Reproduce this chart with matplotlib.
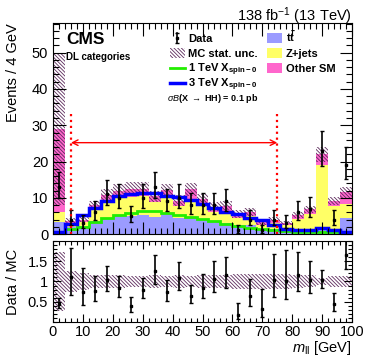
import matplotlib
matplotlib.use("Agg")
import matplotlib.pyplot as plt
import numpy as np
from matplotlib.patches import Rectangle
from matplotlib.ticker import MultipleLocator

plt.rcParams['font.family'] = ['Liberation Sans', 'DejaVu Sans']
plt.rcParams['mathtext.fontset'] = 'custom'
plt.rcParams['mathtext.rm'] = 'Liberation Sans'
plt.rcParams['mathtext.it'] = 'Liberation Sans:italic'
plt.rcParams['mathtext.bf'] = 'Liberation Sans:bold'
plt.rcParams['hatch.linewidth'] = 0.6

# m_ll bins, 4 GeV wide
edges = np.arange(0, 101, 4)

tt = [3.4, 2.0, 2.2, 3.5, 4.5, 5.0, 5.0, 5.2, 4.6, 5.5, 4.3, 4.8, 3.8,
      3.3, 3.0, 2.4, 2.6, 1.4, 1.3, 0.9, 1.0, 1.0, 1.5, 0.8, 4.3]
zjets = [2.7, 1.0, 1.2, 3.2, 4.5, 5.0, 5.2, 5.3, 4.2, 4.7, 3.4, 5.0, 4.0,
         2.8, 3.0, 2.0, 2.4, 1.2, 1.7, 1.5, 3.2, 4.5, 17.5, 7.0, 4.0]
other = [22.9, 0.6, 0.6, 1.2, 1.7, 2.0, 2.3, 2.0, 1.6, 2.0, 1.5, 2.5, 1.8,
         1.5, 1.8, 1.1, 1.2, 0.6, 0.9, 0.6, 1.0, 1.3, 3.0, 1.3, 3.2]
mc_unc = [21.0, 0.9, 0.8, 1.3, 1.6, 1.8, 1.8, 1.8, 1.6, 1.7, 1.5, 1.8, 1.5,
          1.3, 1.3, 1.0, 1.1, 0.6, 0.7, 0.55, 0.8, 1.0, 2.0, 1.2, 1.5]
data = [13, 4, 3, 6, 11, 10, 5, 10, 13, 9, 10, 8, 8,
        8, 9, 1, 4, 1, 4, 3, 6, 7, 23, 4, 19]
sig_1tev = [0.4, 1.5, 2.0, 3.3, 4.3, 5.3, 5.9, 6.4, 6.3, 5.9, 5.3, 4.8, 4.1,
            3.5, 2.9, 2.2, 1.8, 1.4, 1.0, 0.8, 0.7, 0.6, 0.6, 0.5, 0.4]
sig_3tev = [0.5, 2.8, 5.3, 7.2, 9.0, 10.4, 11.0, 11.4, 11.2, 10.6, 10.1, 9.4, 8.3,
            7.2, 6.2, 5.4, 4.5, 3.8, 2.5, 1.4, 1.1, 1.1, 1.6, 1.1, 0.6]

tt = np.array(tt)
zjets = np.array(zjets)
other = np.array(other)
mc_unc = np.array(mc_unc)
data = np.array(data, dtype=float)
total = tt + zjets + other
centers = 0.5 * (edges[:-1] + edges[1:])
err_up = np.sqrt(data + 0.25) + 0.5
err_dn = np.sqrt(data + 0.25) - 0.5

c_tt = '#9b9bff'
c_z = '#ffff66'
c_other = '#ff66cc'
c_hatch = '#5c2a5c'
c_green = '#22ee00'
c_blue = '#0000ff'
hatch = '\\\\\\\\\\\\\\\\\\'

fig = plt.figure(figsize=(3.74, 3.59), dpi=100)
ax = fig.add_axes([0.1417, 0.348, 0.7995, 0.588])
rax = fig.add_axes([0.1417, 0.103, 0.7995, 0.226])

# stacked backgrounds
ax.stairs(tt, edges, baseline=0, fill=True, color=c_tt, lw=0)
ax.stairs(tt + zjets, edges, baseline=tt, fill=True, color=c_z, lw=0)
ax.stairs(total, edges, baseline=tt + zjets, fill=True, color=c_other, lw=0)
ax.stairs(total + mc_unc, edges, baseline=total - mc_unc, fill=True,
          facecolor='none', edgecolor=c_hatch, hatch=hatch, lw=0)

# signals
ax.stairs(sig_1tev, edges, baseline=None, color=c_green, lw=2)
ax.stairs(sig_3tev, edges, baseline=None, color=c_blue, lw=2.5)

ax.errorbar(centers, data, yerr=[err_dn, err_up], fmt='s', ms=2, color='black',
            elinewidth=1.2, capsize=1.2, capthick=1)

# selection window
ax.vlines([6, 75], 0, 33.3, colors='red', linestyles=':', lw=1.6)
ax.annotate('', xy=(6, 25.2), xytext=(75, 25.2),
            arrowprops=dict(arrowstyle='<->', color='red', lw=1,
                            shrinkA=0, shrinkB=0))

ax.set_xlim(0, 100)
ax.set_ylim(0, 58.2)
ax.xaxis.set_major_locator(MultipleLocator(10))
ax.xaxis.set_minor_locator(MultipleLocator(2))
ax.yaxis.set_major_locator(MultipleLocator(10))
ax.yaxis.set_minor_locator(MultipleLocator(2))
ax.tick_params(which='both', direction='in', top=True, right=True, labelsize=10.5)
ax.tick_params(which='major', length=9, width=0.8)
ax.tick_params(which='minor', length=4.5, width=0.8)
ax.tick_params(axis='x', labelbottom=False)
ax.set_ylabel('Events / 4 GeV', loc='top', fontsize=10.5)
ax.yaxis.set_label_coords(-0.11, 1.0)

ax.text(0.045, 0.955, 'CMS', transform=ax.transAxes, fontsize=12.5,
        fontweight='bold', va='top', ha='left')
ax.text(0.045, 0.838, 'DL categories', transform=ax.transAxes, fontsize=7,
        fontweight='bold', va='center', ha='left')
ax.text(0.381, 0.642, r'$\sigma B$(X $\rightarrow$ HH) = 0.1 pb',
        transform=ax.transAxes, fontsize=6.5, fontweight='bold', va='center')
fig.text(0.941, 0.9415, r'138 fb$^{-1}$ (13 TeV)', ha='right', va='baseline',
         fontsize=10.5)

# legend drawn by hand so that the rows keep an even spacing
rows = [0.929, 0.858, 0.787, 0.716]
kw = dict(transform=ax.transAxes, clip_on=False)
x1, x2 = 0.391, 0.716
hw, hh = 0.05, 0.047
xm = x1 + hw / 2
ax.plot([xm, xm], [rows[0] - 0.025, rows[0] + 0.025], color='black', lw=1.2, **kw)
ax.plot([xm], [rows[0]], marker='s', ms=2, color='black', **kw)
ax.plot([xm, xm], [rows[0] - 0.025, rows[0] + 0.025], lw=0, marker='_', ms=2.4,
        mew=1, color='black', **kw)
ax.add_patch(Rectangle((x1, rows[1] - hh / 2), hw, hh, facecolor='none',
                       edgecolor=c_hatch, hatch=hatch, lw=0, **kw))
ax.plot([x1, x1 + hw], [rows[2]] * 2, color=c_green, lw=2, **kw)
ax.plot([x1, x1 + hw], [rows[3]] * 2, color=c_blue, lw=2.5, **kw)
for y, c in zip(rows[:3], [c_tt, c_z, c_other]):
    ax.add_patch(Rectangle((x2, y - hh / 2), hw, hh, facecolor=c, lw=0, **kw))

col1 = ['Data', 'MC stat. unc.', r'1 TeV X$_{\mathbf{spin-0}}$',
        r'3 TeV X$_{\mathbf{spin-0}}$']
col2 = [r'$\mathbf{t\bar{t}}$', 'Z+jets', 'Other SM']
for y, s in zip(rows, col1):
    ax.text(x1 + hw + 0.012, y - 0.018, s, transform=ax.transAxes, fontsize=8,
            fontweight='bold', va='baseline', ha='left')
for y, s in zip(rows, col2):
    ax.text(x2 + hw + 0.012, y - 0.018, s, transform=ax.transAxes, fontsize=8,
            fontweight='bold', va='baseline', ha='left')

# ratio panel
ratio = data / total
rel = mc_unc / total
rax.stairs(1 + rel, edges, baseline=1 - rel, fill=True, facecolor='none',
           edgecolor=c_hatch, hatch=hatch, lw=0)
rax.errorbar(centers, ratio, yerr=[err_dn / total, err_up / total], fmt='s',
             ms=2, color='black', elinewidth=1.2, capsize=1.2, capthick=1)
rax.set_xlim(0, 100)
rax.set_ylim(0, 2)
rax.set_yticks([0.5, 1, 1.5])
rax.set_yticklabels(['0.5', '1', '1.5'])
rax.yaxis.set_minor_locator(MultipleLocator(0.1))
rax.xaxis.set_major_locator(MultipleLocator(10))
rax.xaxis.set_minor_locator(MultipleLocator(2))
rax.tick_params(which='both', direction='in', top=True, right=True, labelsize=10.5)
rax.tick_params(which='major', length=6, width=0.8)
rax.tick_params(which='minor', length=3, width=0.8)
rax.tick_params(axis='x', pad=2)
rax.set_ylabel('Data / MC', fontsize=10.5)
rax.yaxis.set_label_coords(-0.11, 0.5)
rax.set_xlabel(r'$m_{\mathrm{ll}}$ [GeV]', loc='right', fontsize=10.5, labelpad=0)

fig.savefig('out.png', dpi=100)
